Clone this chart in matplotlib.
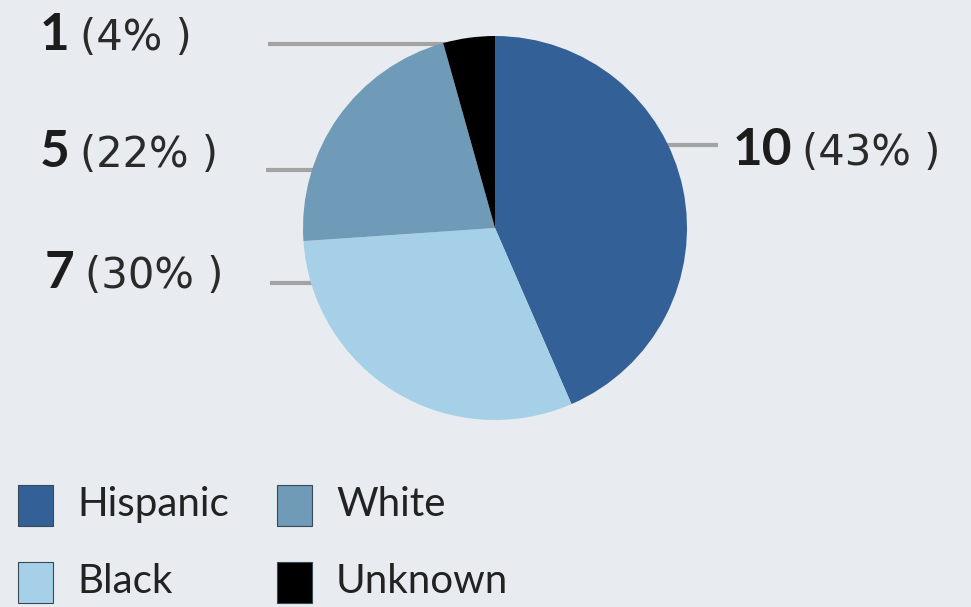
import matplotlib
matplotlib.use("Agg")
import matplotlib.pyplot as plt
from matplotlib.patches import Rectangle

plt.rcParams["font.family"] = ["Lato", "DejaVu Sans"]

# data
groups = ["Hispanic", "Black", "White", "Unknown"]
counts = [10, 7, 5, 1]
colors = ["#336197", "#a6d0e8", "#6f9ab8", "#000000"]

# legend order (row-wise, as printed)
legend_order = ["Hispanic", "White", "Black", "Unknown"]

BG = "#e8ecf0"
W, H = 971, 607

fig = plt.figure(figsize=(9.71, 6.07), dpi=100, facecolor=BG)
ax = fig.add_axes([0, 0, 1, 1])
ax.set_facecolor(BG)

cx, cy, r = 495, H - 228, 192

# leader lines (label side -> pie centre, pie covers the rest)
leaders = {
    "Unknown": (268, 44),
    "White":   (266, 170),
    "Black":   (270, 283),
    "Hispanic": (718, 145),
}
for g, (x0, y0) in leaders.items():
    ax.plot([x0, cx], [H - y0, H - y0], color="#a3a3a3", lw=3.0,
            solid_capstyle="butt", zorder=1)

wedges, _ = ax.pie(counts, colors=colors, startangle=90, counterclock=False,
                   center=(cx, cy), radius=r, frame=True,
                   wedgeprops=dict(linewidth=0, zorder=2))

ax.set_xlim(0, W)
ax.set_ylim(0, H)
ax.set_aspect("auto")
ax.axis("off")

# labels: bold count + regular percent
total = sum(counts)
label_pos = {
    "Unknown": (40, 50),
    "White":   (40, 167),
    "Black":   (45, 288),
    "Hispanic": (733, 165),
}
renderer = fig.canvas.get_renderer()
for g, n in zip(groups, counts):
    x, y = label_pos[g]
    pct = round(n / total * 100)
    t1 = ax.text(x, H - y, f"{n}", fontsize=37, fontweight="bold",
                 color="#1c1c1c", va="baseline", ha="left")
    bb = t1.get_window_extent(renderer=renderer)
    ax.text(x + bb.width + 10, H - y, f"({pct}% )", fontsize=30,
            family="DejaVu Sans", color="#2a2a2a",
            va="baseline", ha="left")

# legend
col_x = [18, 277]
row_y = [485, 562]
for i, g in enumerate(legend_order):
    row, col = divmod(i, 2)
    c = colors[groups.index(g)]
    x0, y0 = col_x[col], row_y[row]
    ax.add_patch(Rectangle((x0, H - y0 - 41), 35, 41, facecolor=c,
                           edgecolor="#3a4a55", lw=0.8))
    ax.text(x0 + 59, H - (y0 + 31), g, fontsize=29, color="#222222",
            va="baseline", ha="left")

fig.savefig("out.png", dpi=100, facecolor=BG)
